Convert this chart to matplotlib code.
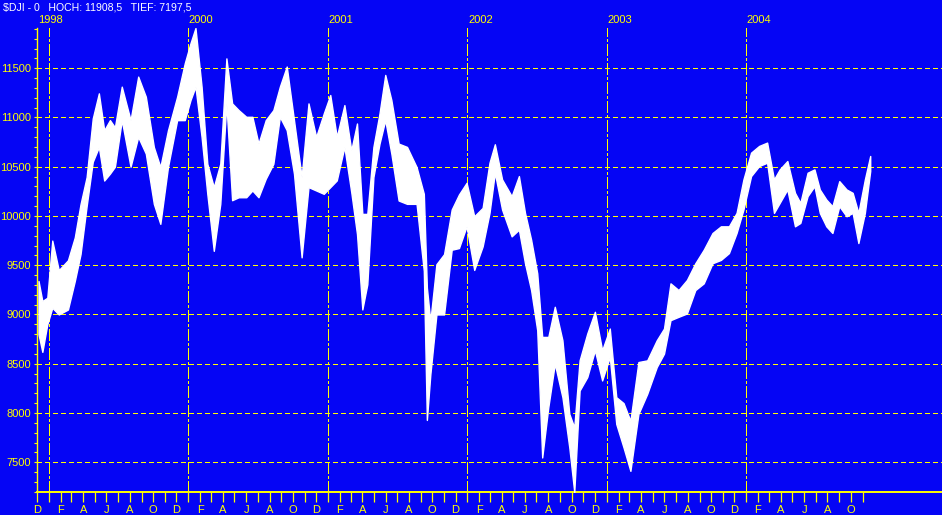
import numpy as np
import pandas as pd
import matplotlib
matplotlib.use("Agg")
import matplotlib.pyplot as plt
from matplotlib.ticker import MultipleLocator

# Dow Jones weekly-ish high/low bands
DATES = [
    "1998-12-05", "1998-12-15", "1998-12-28", "1999-01-10", "1999-01-27", "1999-02-20",
    "1999-03-10", "1999-03-25", "1999-04-10", "1999-04-26", "1999-05-12", "1999-05-26",
    "1999-06-10", "1999-06-23", "1999-07-11", "1999-08-03", "1999-08-23", "1999-09-12",
    "1999-10-03", "1999-10-20", "1999-11-09", "1999-12-03", "1999-12-23", "2000-01-07",
    "2000-01-20", "2000-02-05", "2000-02-20", "2000-03-08", "2000-03-25", "2000-04-10",
    "2000-04-25", "2000-05-12", "2000-06-01", "2000-06-17", "2000-07-03", "2000-07-22",
    "2000-08-11", "2000-08-28", "2000-09-15", "2000-10-04", "2000-10-24", "2000-11-11",
    "2000-12-01", "2000-12-21", "2001-01-07", "2001-01-24", "2001-02-13", "2001-03-03",
    "2001-03-18", "2001-04-01", "2001-04-14", "2001-04-30", "2001-05-16", "2001-05-31",
    "2001-06-16", "2001-07-05", "2001-07-27", "2001-08-21", "2001-09-09", "2001-09-17",
    "2001-09-26", "2001-10-12", "2001-11-01", "2001-11-21", "2001-12-10", "2001-12-30",
    "2002-01-19", "2002-02-10", "2002-02-28", "2002-03-14", "2002-04-02", "2002-04-27",
    "2002-05-16", "2002-06-01", "2002-06-17", "2002-07-03", "2002-07-16", "2002-08-01",
    "2002-08-18", "2002-09-07", "2002-09-25", "2002-10-08", "2002-10-22", "2002-11-11",
    "2002-12-01", "2002-12-20", "2003-01-09", "2003-01-26", "2003-02-14", "2003-03-04",
    "2003-03-25", "2003-04-17", "2003-05-12", "2003-05-31", "2003-06-17", "2003-07-08",
    "2003-07-30", "2003-08-21", "2003-09-12", "2003-10-05", "2003-10-27", "2003-11-17",
    "2003-12-07", "2003-12-25", "2004-01-14", "2004-02-04", "2004-02-25", "2004-03-14",
    "2004-03-29", "2004-04-18", "2004-05-08", "2004-05-22", "2004-06-10", "2004-06-28",
    "2004-07-12", "2004-07-29", "2004-08-14", "2004-09-01", "2004-09-20", "2004-10-06",
    "2004-10-21", "2004-11-07", "2004-11-21",
]
HIGH = [
    9340, 9136, 9170, 9750, 9450, 9550,
    9783, 10120, 10395, 10990, 11245, 10870,
    10973, 10900, 11313, 10973, 11415, 11211,
    10700, 10497, 10870, 11211, 11551, 11755,
    11908.5, 11313, 10530, 10293, 10530, 11600,
    11143, 11075, 11007, 11007, 10735, 10973,
    11075, 11313, 11517, 10973, 10395, 11143,
    10803, 11041, 11228, 10803, 11126, 10667,
    10939, 10021, 10021, 10701, 11041, 11432,
    11177, 10735, 10701, 10497, 10225, 9272,
    8932, 9510, 9612, 10065, 10218, 10337,
    9997, 10082, 10541, 10728, 10371, 10201,
    10405, 10031, 9759, 9418, 8772, 8772,
    9078, 8738, 7990, 7854, 8534, 8806,
    9027, 8636, 8857, 8160, 8100, 7920,
    8517, 8534, 8738, 8857, 9316, 9248,
    9350, 9520, 9657, 9827, 9895, 9895,
    10031, 10371, 10643, 10711, 10745, 10371,
    10473, 10558, 10235, 10133, 10439, 10473,
    10269, 10167, 10099, 10354, 10269, 10235,
    10031, 10371, 10609,
]
LOW = [
    8800, 8620, 8900, 9068, 9000, 9050,
    9340, 9612, 10100, 10550, 10700, 10360,
    10430, 10500, 10973, 10500, 10803, 10633,
    10123, 9920, 10497, 10973, 10973, 11177,
    11313, 10803, 10225, 9646, 10123, 11143,
    10160, 10190, 10190, 10259, 10190, 10378,
    10530, 11007, 10871, 10429, 9580, 10293,
    10259, 10225, 10293, 10361, 10701, 10242,
    9817, 9051, 9306, 10395, 10735, 10973,
    10633, 10157, 10123, 10123, 9442, 7929,
    8388, 9000, 9000, 9657, 9674, 9895,
    9452, 9691, 10031, 10439, 10065, 9793,
    9861, 9520, 9248, 8840, 7548, 8058,
    8500, 8160, 7650, 7197.5, 8228, 8364,
    8636, 8330, 8568, 7888, 7650, 7412,
    7990, 8194, 8466, 8602, 8942, 8976,
    9010, 9248, 9316, 9520, 9554, 9623,
    9827, 10065, 10405, 10507, 10541, 10031,
    10133, 10269, 9895, 9929, 10201, 10303,
    10031, 9895, 9827, 10099, 9997, 10031,
    9725, 10031, 10456,
]
YEAR_LINES = ["1999-01-01", "2000-01-01", "2001-01-01", "2002-01-01", "2003-01-01", "2004-01-01"]
YEAR_LABELS = [("1998-12-01", "1998"), ("2000-01-01", "2000"), ("2001-01-01", "2001"),
               ("2002-01-01", "2002"), ("2003-01-01", "2003"), ("2004-01-01", "2004")]
TITLE = "$DJI - 0   HOCH: 11908,5   TIEF: 7197,5"
Y_LO, Y_HI = 7197.5, 11908.5

BLUE, YEL = "#0505F5", "#FFFF00"
W, H = 942, 515

plt.rcParams["font.family"] = ["Liberation Sans", "DejaVu Sans"]
plt.rcParams["lines.scale_dashes"] = False

fig = plt.figure(figsize=(W / 100, H / 100), dpi=100, facecolor=BLUE)
ax = fig.add_axes([37 / W, 23 / H, (W - 37) / W, (492 - 28) / H])
ax.set_facecolor(BLUE)

dates = pd.to_datetime(DATES)
ax.fill_between(dates, LOW, HIGH, color="white", lw=1.0, zorder=3)

# horizontal grid
for v in np.arange(7500, 11501, 500):
    ax.axhline(v, color=YEL, lw=0.75, dashes=(2.9, 2.2), antialiased=False, zorder=1)

# year separators
for d in pd.to_datetime(YEAR_LINES):
    ax.axvline(d, color=YEL, lw=0.75, dashes=(8, 1.5, 1.5, 1.5), antialiased=False,
               zorder=2)
for d, lab in YEAR_LABELS:
    ax.annotate(lab, xy=(pd.Timestamp(d), 1), xycoords=("data", "axes fraction"),
                xytext=(0.5, 6), textcoords="offset points", color=YEL, fontsize=8,
                ha="left", va="center")

fig.text(3 / W, 1 - 7 / H, TITLE, color="white", fontsize=7.6, ha="left", va="center")

ax.set_ylim(Y_LO, Y_HI)
ax.set_xlim(pd.Timestamp("1998-12-01"), pd.Timestamp("2005-05-28"))

ax.yaxis.set_major_locator(MultipleLocator(500))
ax.yaxis.set_minor_locator(MultipleLocator(100))
ax.tick_params(axis="y", which="both", colors=YEL, length=2.2, width=0.8, pad=2,
               labelsize=8)

months = pd.date_range("1998-12-01", "2004-11-01", freq="MS")
ax.set_xticks(months)
ax.set_xticklabels(["DJFMAMJJASON"[(m.month % 12)] if (m.month % 2 == 0) else ""
                    for m in months])
ax.tick_params(axis="x", colors=YEL, length=7.2, width=0.9, pad=2, labelsize=8)

for s in ("top", "right"):
    ax.spines[s].set_visible(False)
ax.spines["left"].set_color(YEL)
ax.spines["left"].set_linewidth(1.0)
ax.spines["bottom"].set_color(YEL)
ax.spines["bottom"].set_linewidth(1.4)

fig.savefig("out.png", dpi=100, facecolor=BLUE)
